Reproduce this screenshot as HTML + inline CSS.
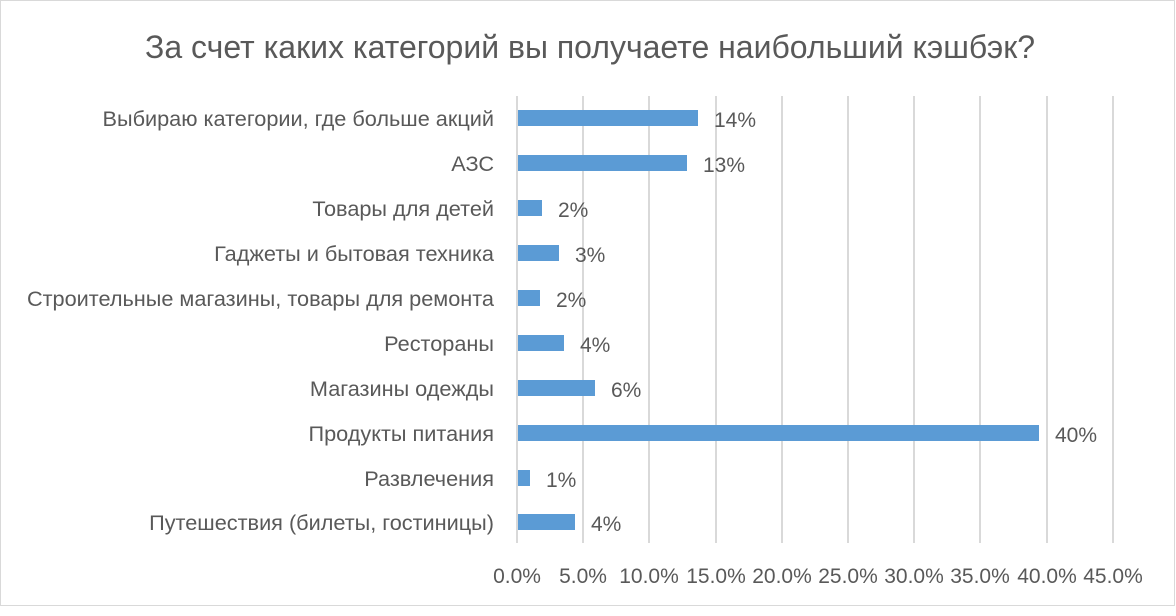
<!DOCTYPE html>
<html><head><meta charset="utf-8"><style>
body{margin:0;background:#fff;}
svg text{font-family:"Liberation Sans","DejaVu Sans",sans-serif;fill:#595959;}
</style></head><body>
<svg width="1176" height="611" xmlns="http://www.w3.org/2000/svg">
<rect x="0.5" y="0.5" width="1174" height="605" fill="#fff" stroke="#d9d9d9"/>
<text x="590" y="58" font-size="32" text-anchor="middle">За счет каких категорий вы получаете наибольший кэшбэк?</text>
<g stroke="#d9d9d9" stroke-width="2">
<line x1="517" y1="96" x2="517" y2="543"/><line x1="583" y1="96" x2="583" y2="543"/>
<line x1="649" y1="96" x2="649" y2="543"/><line x1="716" y1="96" x2="716" y2="543"/>
<line x1="782" y1="96" x2="782" y2="543"/><line x1="848" y1="96" x2="848" y2="543"/>
<line x1="914" y1="96" x2="914" y2="543"/><line x1="980" y1="96" x2="980" y2="543"/>
<line x1="1047" y1="96" x2="1047" y2="543"/><line x1="1113" y1="96" x2="1113" y2="543"/>
</g>
<g fill="#5b9bd5">
<rect x="518" y="110" width="180" height="16"/>
<rect x="518" y="155" width="169" height="16"/>
<rect x="518" y="200" width="24" height="16"/>
<rect x="518" y="245" width="41" height="16"/>
<rect x="518" y="290" width="22" height="16"/>
<rect x="518" y="335" width="46" height="16"/>
<rect x="518" y="380" width="77" height="16"/>
<rect x="518" y="425" width="521" height="16"/>
<rect x="518" y="470" width="12" height="16"/>
<rect x="518" y="514" width="57" height="16"/>
</g>
<g font-size="21.7" text-anchor="end">
<text x="494" y="126">Выбираю категории, где больше акций</text>
<text x="494" y="171">АЗС</text>
<text x="494" y="216">Товары для детей</text>
<text x="494" y="261">Гаджеты и бытовая техника</text>
<text x="494" y="306">Строительные магазины, товары для ремонта</text>
<text x="494" y="351">Рестораны</text>
<text x="494" y="396">Магазины одежды</text>
<text x="494" y="441">Продукты питания</text>
<text x="494" y="486">Развлечения</text>
<text x="494" y="530">Путешествия (билеты, гостиницы)</text>
</g>
<g font-size="21" fill="#404040">
<text x="714" y="127">14%</text>
<text x="703" y="172">13%</text>
<text x="558" y="217">2%</text>
<text x="575" y="262">3%</text>
<text x="556" y="307">2%</text>
<text x="580" y="352">4%</text>
<text x="611" y="397">6%</text>
<text x="1055" y="442">40%</text>
<text x="546" y="487">1%</text>
<text x="591" y="531">4%</text>
</g>
<g font-size="21" text-anchor="middle">
<text x="517" y="583">0.0%</text><text x="583" y="583">5.0%</text>
<text x="649" y="583">10.0%</text><text x="716" y="583">15.0%</text>
<text x="782" y="583">20.0%</text><text x="848" y="583">25.0%</text>
<text x="914" y="583">30.0%</text><text x="980" y="583">35.0%</text>
<text x="1047" y="583">40.0%</text><text x="1113" y="583">45.0%</text>
</g>
</svg>
</body></html>
